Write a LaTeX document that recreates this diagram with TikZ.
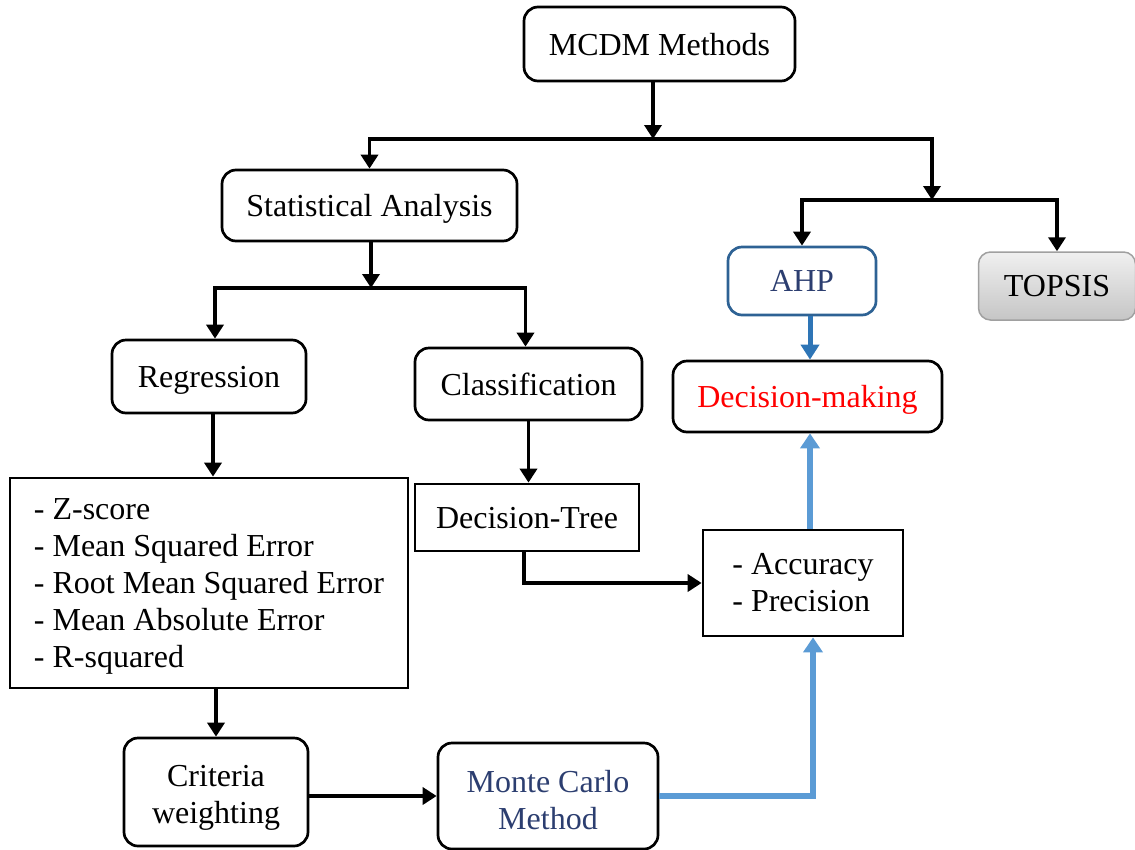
\documentclass[tikz,border=0pt]{standalone}
\usepackage{fontspec}
\setmainfont{Liberation Serif}
\usetikzlibrary{arrows.meta}

\definecolor{navy}{RGB}{44,62,112}
\definecolor{ahpedge}{RGB}{46,98,148}
\definecolor{midblue}{RGB}{46,117,182}
\definecolor{lightblue}{RGB}{91,155,213}
\definecolor{grayedge}{RGB}{160,160,160}

\begin{document}
\begin{tikzpicture}[x=1pt,y=-1pt,
  font=\fontsize{32}{37}\selectfont,
  box/.style={draw, line width=2.7pt, inner sep=0pt, align=center, text depth=-3pt},
  rbox/.style={box, rounded corners=14pt},
  link/.style={line width=3.8pt},
  arr/.style={link, -{Triangle[width=17pt,length=14pt]}},
  bluearr/.style={line width=6pt, lightblue, -{Triangle[width=19pt,length=15pt]}},
  ahparr/.style={line width=5pt, midblue, -{Triangle[width=18pt,length=15pt]}},
]
\useasboundingbox (0,0) rectangle (1135,849);

% boxes
\node[rbox, minimum width=271pt, minimum height=74pt] (mcdm) at (659.5,44) {MCDM Methods};
\node[rbox, minimum width=295pt, minimum height=71pt] (sa) at (369.5,205.5) {Statistical Analysis};
\node[rbox, minimum width=194pt, minimum height=73pt] (reg) at (209,376.5) {Regression};
\node[rbox, minimum width=227pt, minimum height=72pt] (cls) at (528.5,384) {Classification};
\node[box, minimum width=398pt, minimum height=210pt, align=left] (list) at (209,583)
  {- Z-score\\- Mean Squared Error\\- Root Mean Squared Error\\- Mean Absolute Error\\- R-squared};
\node[box, minimum width=224pt, minimum height=67pt] (dt) at (527,517.5) {Decision-Tree};
\node[box, minimum width=200pt, minimum height=106pt, align=left, text depth=2pt] (acc) at (803,583)
  {- Accuracy\\- Precision};
\node[rbox, minimum width=269pt, minimum height=71pt, text=red] (dm) at (807.5,396.5) {Decision-making};
\node[rbox, draw=ahpedge, minimum width=148pt, minimum height=68pt, text=navy] (ahp) at (802,281) {AHP};
\node[box, rounded corners=12pt, line width=1.5pt, draw=grayedge, top color=gray!12, bottom color=gray!45,
  minimum width=157pt, minimum height=68pt] (topsis) at (1057,286) {TOPSIS};
% taller struts on the first line push these two-line labels down a little
\node[rbox, minimum width=184pt, minimum height=108pt] (crit) at (216,792)
  {\rule{0pt}{26pt}Criteria\\weighting};
\node[rbox, minimum width=220pt, minimum height=106pt, text=navy] (mc) at (548,796)
  {\rule{0pt}{29pt}Monte Carlo\\Method};

% junctions
\coordinate (j1) at (653,139);
\coordinate (j2) at (932,200);
\coordinate (j3) at (371,288);

% tree connectors
\draw[arr] (mcdm.south -| j1) -- (j1);
\draw[arr] (j1) -| (sa.north);
\draw[arr] (j1) -| (j2);
\draw[arr] (j2) -| (ahp.north);
\draw[arr] (j2) -| (topsis.north);
\draw[arr] (sa.south -| j3) -- (j3);
\draw[arr] (j3) -| ([xshift=6pt]reg.north);
\draw[arr] (j3) -| ([xshift=-3pt]cls.north);
\draw[arr] ([xshift=4pt]reg.south) -- ([xshift=4pt]reg.south |- list.north);
\draw[arr] (cls.south) -- (cls.south |- dt.north);
\draw[arr] ([xshift=-3pt]dt.south) |- (acc.west);
\draw[arr] (list.south -| crit.north) -- (crit.north);
\draw[arr] (crit.east |- mc.west) -- (mc.west);

% blue flows
\draw[bluearr] (mc.east) -| ([xshift=10pt]acc.south);
\draw[bluearr] ([xshift=7pt]acc.north) -- ([xshift=7pt]acc.north |- dm.south);
\draw[ahparr] ([xshift=8pt]ahp.south) -- ([xshift=8pt]ahp.south |- dm.north);
\end{tikzpicture}
\end{document}
